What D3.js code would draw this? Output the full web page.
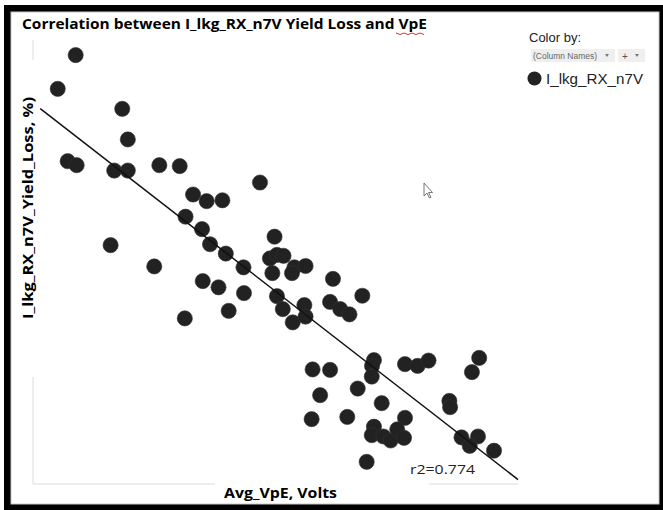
<!DOCTYPE html>
<html>
<head>
<meta charset="utf-8">
<script src="https://cdn.jsdelivr.net/npm/d3@7"></script>
<style>
  body { margin: 0; background: #fff; }
  svg { display: block; }
</style>
</head>
<body>
<div id="chart"></div>
<script>
// Avg_VpE (Volts) and yield loss (%), no ticks so units are estimated
var vpe = [0.6176, 0.6102, 0.6368, 0.6391, 0.6143, 0.6180, 0.6335, 0.6391, 0.6521, 0.6605,
           0.6660, 0.6716, 0.6781, 0.6936, 0.6629, 0.6697, 0.6730, 0.6795, 0.6868, 0.6320,
           0.6500, 0.6700, 0.6765, 0.6870, 0.6807, 0.6626, 0.6996, 0.6977, 0.7006, 0.7033,
           0.6987, 0.7078, 0.7068, 0.7124, 0.7006, 0.7030, 0.7071, 0.7119, 0.7124, 0.7237,
           0.7225, 0.7267, 0.7305, 0.7358, 0.7406, 0.7398, 0.7397, 0.7534, 0.7586, 0.7631,
           0.7153, 0.7225, 0.7184, 0.7339, 0.7438, 0.7149, 0.7296, 0.7534, 0.7406, 0.7397,
           0.7445, 0.7475, 0.7502, 0.7530, 0.7376, 0.7717, 0.7720, 0.7840, 0.7810, 0.7767,
           0.7835, 0.7801, 0.7901];
var yieldLoss = [9.66, 8.90, 8.45, 7.76, 7.27, 7.18, 7.06, 7.06, 7.18, 7.16,
                 6.52, 6.37, 6.39, 6.79, 6.02, 5.74, 5.40, 5.19, 4.88, 5.38,
                 4.90, 4.57, 4.43, 4.30, 3.90, 3.73, 5.57, 5.08, 5.16, 5.14,
                 4.75, 4.88, 4.75, 4.91, 4.23, 3.94, 3.64, 4.03, 3.77, 4.62,
                 4.10, 3.94, 3.82, 4.24, 2.79, 2.66, 2.42, 2.70, 2.66, 2.78,
                 2.58, 2.57, 2.00, 2.15, 1.82, 1.46, 1.51, 1.49, 1.29, 1.10,
                 1.07, 0.98, 1.23, 1.04, 0.50, 1.87, 1.73, 2.84, 2.52, 1.05,
                 1.07, 0.86, 0.75];

// straight line fit shown in the chart (yield = intercept + slope * vpe)
var fitIntercept = 34.02,
    fitSlope = -42.4,
    fitRange = [0.603, 0.80];
var r2 = "0.774";

var seriesName = "I_lkg_RX_n7V";

var width = 663, height = 510;

var svg = d3.select("#chart")
    .append("svg")
    .attr("width", width)
    .attr("height", height)
    .style("font-family", "'Open Sans', sans-serif");

// screenshot frame
svg.append("rect")
    .attr("x", 4).attr("y", 5)
    .attr("width", width - 4).attr("height", height - 5)
    .attr("fill", "#000");
svg.append("rect")
    .attr("x", 11).attr("y", 12)
    .attr("width", 648).attr("height", 492)
    .attr("fill", "#fff")
    .attr("stroke", "#c8c8c8")
    .attr("stroke-width", 1);

var x = d3.scaleLinear().domain([0.6, 0.8]).range([33, 518]);
var y = d3.scaleLinear().domain([0, 10]).range([484, 40]);

// faint axis lines
svg.append("line")
    .attr("x1", x.range()[0]).attr("x2", x.range()[1])
    .attr("y1", y.range()[0]).attr("y2", y.range()[0])
    .attr("stroke", "#dcdcdc").attr("stroke-width", 1);
svg.append("line")
    .attr("x1", x.range()[0]).attr("x2", x.range()[0])
    .attr("y1", y.range()[0]).attr("y2", y.range()[1])
    .attr("stroke", "#dcdcdc").attr("stroke-width", 1);

// label backgrounds hide parts of the axis lines
svg.append("rect").attr("x", 215).attr("y", 478).attr("width", 214).attr("height", 24).attr("fill", "#fff");
svg.append("rect").attr("x", 16).attr("y", 60).attr("width", 24).attr("height", 317).attr("fill", "#fff");

var pts = vpe.map(function (v, i) { return { x: v, y: yieldLoss[i] }; });

svg.selectAll(".dot")
    .data(pts)
    .enter().append("circle")
    .attr("class", "dot")
    .attr("cx", function (d) { return x(d.x); })
    .attr("cy", function (d) { return y(d.y); })
    .attr("r", 7.6)
    .attr("fill", "#222")
    .attr("stroke", "#333")
    .attr("stroke-width", 0.6);

// trend line
svg.append("line")
    .attr("x1", x(fitRange[0]))
    .attr("y1", y(fitIntercept + fitSlope * fitRange[0]))
    .attr("x2", x(fitRange[1]))
    .attr("y2", y(fitIntercept + fitSlope * fitRange[1]))
    .attr("stroke", "#111")
    .attr("stroke-width", 1.5);

svg.append("text")
    .attr("x", 410).attr("y", 474)
    .attr("font-size", 13)
    .attr("fill", "#222")
    .attr("textLength", 65)
    .attr("lengthAdjust", "spacingAndGlyphs")
    .text("r2=" + r2);

// title
svg.append("text")
    .attr("x", 22).attr("y", 29)
    .attr("font-size", 15)
    .attr("font-weight", "bold")
    .attr("fill", "#000")
    .attr("textLength", 405)
    .attr("lengthAdjust", "spacingAndGlyphs")
    .text("Correlation between I_lkg_RX_n7V Yield Loss and VpE");

// spellcheck squiggle under VpE
var squig = d3.range(0, 8).map(function (i) { return [396 + i * 4, 33 + (i % 2 ? 1.5 : 0)]; });
svg.append("path")
    .attr("d", d3.line()(squig))
    .attr("fill", "none")
    .attr("stroke", "#e03030")
    .attr("stroke-width", 1);

// axis titles
svg.append("text")
    .attr("x", 224).attr("y", 498)
    .attr("font-size", 14)
    .attr("font-weight", "bold")
    .attr("textLength", 113)
    .attr("lengthAdjust", "spacingAndGlyphs")
    .text("Avg_VpE, Volts");

svg.append("text")
    .attr("transform", "translate(33,319) rotate(-90)")
    .attr("font-size", 14)
    .attr("font-weight", "bold")
    .attr("textLength", 222)
    .attr("lengthAdjust", "spacingAndGlyphs")
    .text("I_lkg_RX_n7V_Yield_Loss, %)");

// color-by panel
var panel = svg.append("g").style("font-family", "'Liberation Sans', Arial, sans-serif");
panel.append("text")
    .attr("x", 529).attr("y", 42)
    .attr("font-size", 13)
    .attr("fill", "#222")
    .text("Color by:");
panel.append("rect")
    .attr("x", 531).attr("y", 49).attr("width", 84).attr("height", 13)
    .attr("fill", "#efefef");
panel.append("text")
    .attr("x", 533).attr("y", 59)
    .attr("font-size", 8.5)
    .attr("fill", "#666")
    .attr("textLength", 64)
    .attr("lengthAdjust", "spacingAndGlyphs")
    .text("(Column Names)");
panel.append("path").attr("d", "M605,54 l4,0 l-2,3 z").attr("fill", "#777");
panel.append("rect")
    .attr("x", 618).attr("y", 49).attr("width", 27).attr("height", 13)
    .attr("fill", "#efefef");
panel.append("text")
    .attr("x", 622).attr("y", 59.5)
    .attr("font-size", 10)
    .attr("fill", "#555")
    .text("+");
panel.append("path").attr("d", "M635,54 l4,0 l-2,3 z").attr("fill", "#777");

panel.append("circle")
    .attr("cx", 534.5).attr("cy", 78.5)
    .attr("r", 7)
    .attr("fill", "#222");
panel.append("text")
    .attr("x", 546).attr("y", 84)
    .attr("font-size", 14.5)
    .attr("fill", "#222")
    .attr("textLength", 97)
    .attr("lengthAdjust", "spacingAndGlyphs")
    .text(seriesName);

// mouse pointer left in the screenshot
svg.append("path")
    .attr("d", "M424,183 L424,196 L427,193 L429.5,198 L431,197.3 L428.6,192.5 L432.5,192.5 Z")
    .attr("fill", "#fff")
    .attr("stroke", "#555")
    .attr("stroke-width", 0.8);
</script>
</body>
</html>
